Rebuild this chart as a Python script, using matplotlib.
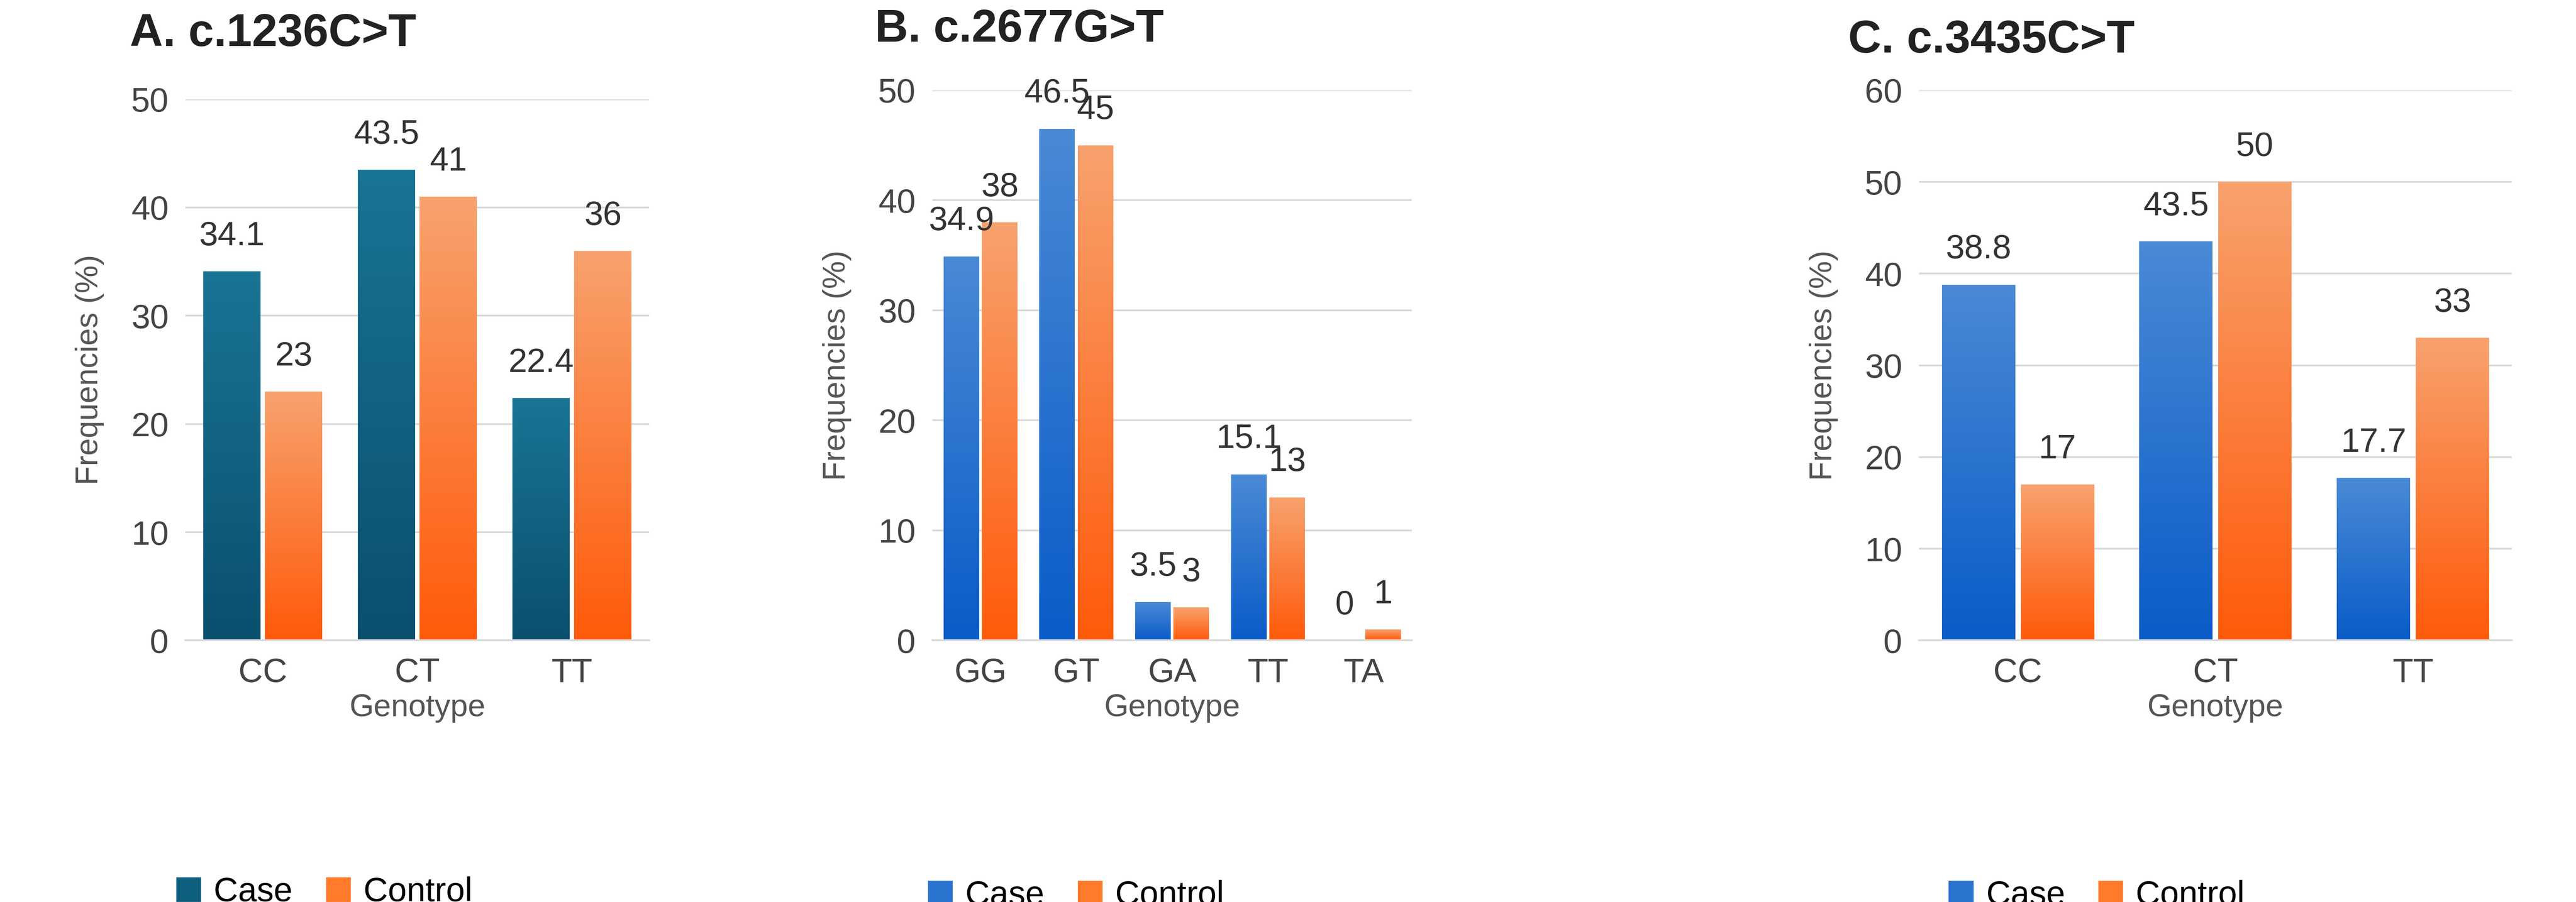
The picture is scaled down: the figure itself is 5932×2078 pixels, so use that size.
import numpy as np
import matplotlib.pyplot as plt
from matplotlib.colors import LinearSegmentedColormap

a_genotypes = ['CC', 'CT', 'TT']
a_case = [34.1, 43.5, 22.4]
a_control = [23, 41, 36]

b_genotypes = ['GG', 'GT', 'GA', 'TT', 'TA']
b_case = [34.9, 46.5, 3.5, 15.1, 0]
b_control = [38, 45, 3, 13, 1]

c_genotypes = ['CC', 'CT', 'TT']
c_case = [38.8, 43.5, 17.7]
c_control = [17, 50, 33]

plt.rcParams['font.family'] = ['Liberation Sans', 'DejaVu Sans']

teal = LinearSegmentedColormap.from_list('teal', ['#0a4f6e', '#1a7494'])
blue = LinearSegmentedColormap.from_list('blue', ['#0a5cc8', '#4a8ad6'])
orange = LinearSegmentedColormap.from_list('orange', ['#ff5a0a', '#f8a26e'])
grad = np.linspace(0, 1, 256).reshape(-1, 1)


def gradient_bars(ax, x, h, width, cmap):
    bars = ax.bar(x, h, width, color='none', edgecolor='none')
    for b in bars:
        if b.get_height() <= 0:
            continue
        x0, w, ht = b.get_x(), b.get_width(), b.get_height()
        im = ax.imshow(grad, cmap=cmap, origin='lower', aspect='auto',
                       extent=(x0, x0 + w, 0, ht), zorder=2)
        im.set_clip_path(b)
    return bars


def panel(ax, title, cats, case, control, ymax, case_cmap, case_color, title_y):
    x = np.arange(len(cats))
    w = 0.37
    off = 0.2
    gradient_bars(ax, x - off, case, w, case_cmap)
    gradient_bars(ax, x + off, control, w, orange)
    for xi, v in zip(x, case):
        ax.text(xi - off, v + ymax * 0.035, f'{v:g}', ha='center', va='bottom', fontsize=28, color='#333333')
    for xi, v in zip(x, control):
        ax.text(xi + off, v + ymax * 0.035, f'{v:g}', ha='center', va='bottom', fontsize=28, color='#333333')
    ax.set_xlim(-0.5, len(cats) - 0.5)
    ax.set_ylim(0, ymax)
    ax.set_yticks(np.arange(0, ymax + 1, 10))
    ax.set_xticks(x)
    ax.set_xticklabels(cats)
    ax.tick_params(labelsize=28, colors='#444444', length=0, pad=14)
    ax.grid(axis='y', color='#d9d9d9', linewidth=1.5, zorder=0)
    ax.set_axisbelow(True)
    for s in ['top', 'right', 'left']:
        ax.spines[s].set_visible(False)
    ax.spines['bottom'].set_color('#d9d9d9')
    ax.spines['bottom'].set_linewidth(1.5)
    ax.set_xlabel('Genotype', fontsize=26, color='#555555', labelpad=4)
    ax.set_ylabel('Frequencies (%)', fontsize=26, color='#555555', labelpad=22)
    ax.text(-0.12, title_y, title, transform=ax.transAxes, fontsize=38,
            fontweight='bold', color='#222222', ha='left', va='center')
    h1 = plt.Rectangle((0, 0), 1, 1, color=case_color)
    h2 = plt.Rectangle((0, 0), 1, 1, color='#ff7a2a')
    ax.legend([h1, h2], ['Case', 'Control'], loc='upper center', bbox_to_anchor=(0.3, -0.38),
              ncol=2, frameon=False, fontsize=28, handlelength=0.7, handleheight=0.7,
              columnspacing=1.0, handletextpad=0.4)


fig = plt.figure(figsize=(29.66, 10.39), dpi=200)
ax1 = fig.add_axes([0.072, 0.29, 0.18, 0.60])
ax2 = fig.add_axes([0.362, 0.29, 0.186, 0.61])
ax3 = fig.add_axes([0.745, 0.29, 0.23, 0.61])
panel(ax1, 'A. c.1236C>T', a_genotypes, a_case, a_control, 50, teal, '#0f5f7e', 1.12)
panel(ax2, 'B. c.2677G>T', b_genotypes, b_case, b_control, 50, blue, '#2a74d0', 1.11)
panel(ax3, 'C. c.3435C>T', c_genotypes, c_case, c_control, 60, blue, '#2a74d0', 1.09)
fig.savefig('out.png', dpi=200)
